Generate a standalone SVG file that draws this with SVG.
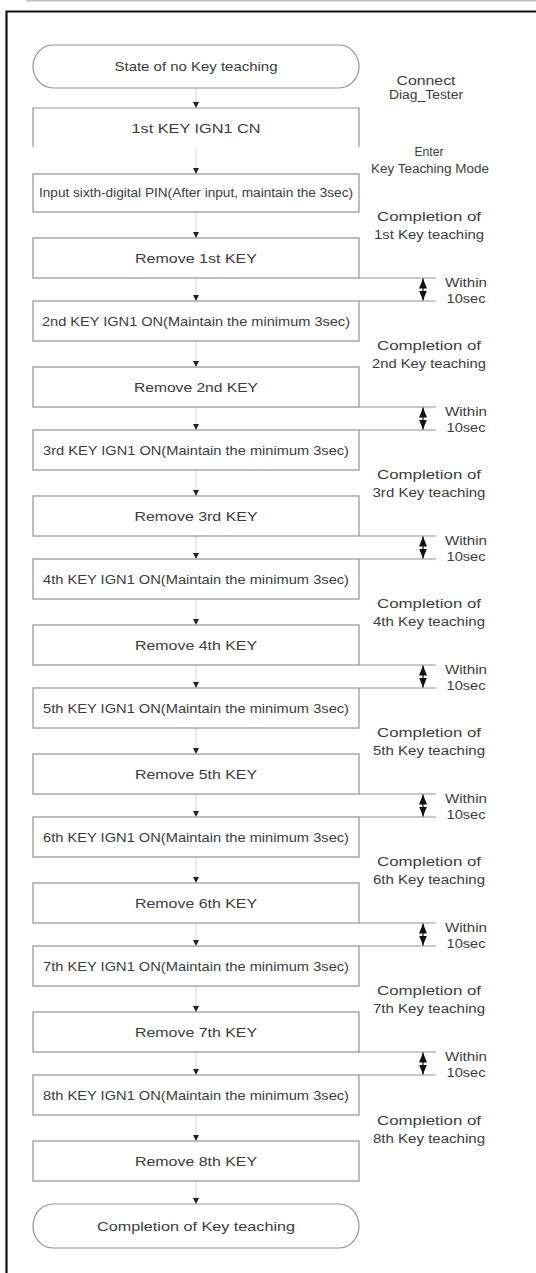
<svg xmlns="http://www.w3.org/2000/svg" width="536" height="1273" viewBox="0 0 536 1273">
<style>
.box{fill:#fff;stroke:#939393;stroke-width:1.2}
.t{font-family:"Liberation Sans",Arial,sans-serif;font-size:13px;fill:#3c3c3c;text-anchor:middle}
.s{font-size:12.5px}
.l{font-family:"Liberation Sans",Arial,sans-serif;font-size:12.5px;fill:#3c3c3c;text-anchor:middle}
.conn{stroke:#d4d4d4;stroke-width:1;fill:none}
.ext{stroke:#939393;stroke-width:1.2;fill:none}
.dbl{stroke:#111;stroke-width:1.2;fill:none}
</style>
<defs>
<marker id="ah" markerUnits="userSpaceOnUse" markerWidth="7" markerHeight="6" refX="6" refY="3" orient="auto"><path d="M0,0 L6,3 L0,6 z" fill="#222"/></marker>
<marker id="dh" markerUnits="userSpaceOnUse" markerWidth="11" markerHeight="8" refX="10" refY="4" orient="auto-start-reverse"><path d="M0,0 L10,4 L0,8 z" fill="#111"/></marker>
</defs>
<rect width="536" height="1273" fill="#fff"/>
<line x1="26" y1="0.7" x2="536" y2="0.7" stroke="#bdbdbd" stroke-width="1.5"/>
<path d="M6.5,1273 V11.5 H536" fill="none" stroke="#111" stroke-width="2.2"/>

<g id="connectors">
<line class="conn" x1="196" y1="88" x2="196" y2="108" marker-end="url(#ah)"/>
<line class="conn" x1="196" y1="147" x2="196" y2="174" marker-end="url(#ah)"/>
<line class="conn" x1="196" y1="212" x2="196" y2="238" marker-end="url(#ah)"/>
<line class="conn" x1="196" y1="278" x2="196" y2="301" marker-end="url(#ah)"/>
<line class="conn" x1="196" y1="341" x2="196" y2="367" marker-end="url(#ah)"/>
<line class="conn" x1="196" y1="407" x2="196" y2="430" marker-end="url(#ah)"/>
<line class="conn" x1="196" y1="470" x2="196" y2="496" marker-end="url(#ah)"/>
<line class="conn" x1="196" y1="536" x2="196" y2="559" marker-end="url(#ah)"/>
<line class="conn" x1="196" y1="599" x2="196" y2="625" marker-end="url(#ah)"/>
<line class="conn" x1="196" y1="665" x2="196" y2="688" marker-end="url(#ah)"/>
<line class="conn" x1="196" y1="728" x2="196" y2="754" marker-end="url(#ah)"/>
<line class="conn" x1="196" y1="794" x2="196" y2="817" marker-end="url(#ah)"/>
<line class="conn" x1="196" y1="857" x2="196" y2="883" marker-end="url(#ah)"/>
<line class="conn" x1="196" y1="923" x2="196" y2="946" marker-end="url(#ah)"/>
<line class="conn" x1="196" y1="986" x2="196" y2="1012" marker-end="url(#ah)"/>
<line class="conn" x1="196" y1="1052" x2="196" y2="1075" marker-end="url(#ah)"/>
<line class="conn" x1="196" y1="1115" x2="196" y2="1141" marker-end="url(#ah)"/>
<line class="conn" x1="196" y1="1181" x2="196" y2="1204" marker-end="url(#ah)"/>
</g>

<g id="timing">
<path class="ext" d="M359,278 H436 M359,301 H436 M359,407 H436 M359,430 H436 M359,536 H436 M359,559 H436 M359,665 H436 M359,688 H436 M359,794 H436 M359,817 H436 M359,923 H436 M359,946 H436 M359,1052 H436 M359,1075 H436"/>
<line class="dbl" x1="423" y1="278.5" x2="423" y2="300.5" marker-start="url(#dh)" marker-end="url(#dh)"/>
<line class="dbl" x1="423" y1="407.5" x2="423" y2="429.5" marker-start="url(#dh)" marker-end="url(#dh)"/>
<line class="dbl" x1="423" y1="536.5" x2="423" y2="558.5" marker-start="url(#dh)" marker-end="url(#dh)"/>
<line class="dbl" x1="423" y1="665.5" x2="423" y2="687.5" marker-start="url(#dh)" marker-end="url(#dh)"/>
<line class="dbl" x1="423" y1="794.5" x2="423" y2="816.5" marker-start="url(#dh)" marker-end="url(#dh)"/>
<line class="dbl" x1="423" y1="923.5" x2="423" y2="945.5" marker-start="url(#dh)" marker-end="url(#dh)"/>
<line class="dbl" x1="423" y1="1052.5" x2="423" y2="1074.5" marker-start="url(#dh)" marker-end="url(#dh)"/>
</g>

<g id="start"><rect class="box" x="33" y="45" width="326" height="43" rx="20" ry="21.5"/><text class="t" x="196" y="71" textLength="163" lengthAdjust="spacingAndGlyphs">State of no Key teaching</text></g>
<g id="key1-on"><path class="box" d="M33,147 V108 H359 V147"/><text class="t" x="196" y="133" textLength="129" lengthAdjust="spacingAndGlyphs">1st KEY IGN1 CN</text></g>
<g id="pin"><rect class="box" x="33" y="174" width="326" height="38"/><text class="t s" x="196" y="197" textLength="314" lengthAdjust="spacingAndGlyphs">Input sixth-digital PIN(After input, maintain the 3sec)</text></g>

<g id="remove1"><rect class="box" x="33" y="238" width="326" height="40"/><text class="t" x="196" y="263" textLength="122" lengthAdjust="spacingAndGlyphs">Remove 1st KEY</text></g>
<g id="key2-on"><rect class="box" x="33" y="301" width="326" height="40"/><text class="t" x="196" y="326" textLength="308" lengthAdjust="spacingAndGlyphs">2nd KEY IGN1 ON(Maintain the minimum 3sec)</text></g>
<g id="remove2"><rect class="box" x="33" y="367" width="326" height="40"/><text class="t" x="196" y="392" textLength="124" lengthAdjust="spacingAndGlyphs">Remove 2nd KEY</text></g>
<g id="key3-on"><rect class="box" x="33" y="430" width="326" height="40"/><text class="t" x="196" y="455" textLength="306" lengthAdjust="spacingAndGlyphs">3rd KEY IGN1 ON(Maintain the minimum 3sec)</text></g>
<g id="remove3"><rect class="box" x="33" y="496" width="326" height="40"/><text class="t" x="196" y="521" textLength="123" lengthAdjust="spacingAndGlyphs">Remove 3rd KEY</text></g>
<g id="key4-on"><rect class="box" x="33" y="559" width="326" height="40"/><text class="t" x="196" y="584" textLength="306" lengthAdjust="spacingAndGlyphs">4th KEY IGN1 ON(Maintain the minimum 3sec)</text></g>
<g id="remove4"><rect class="box" x="33" y="625" width="326" height="40"/><text class="t" x="196" y="650" textLength="122" lengthAdjust="spacingAndGlyphs">Remove 4th KEY</text></g>
<g id="key5-on"><rect class="box" x="33" y="688" width="326" height="40"/><text class="t" x="196" y="713" textLength="306" lengthAdjust="spacingAndGlyphs">5th KEY IGN1 ON(Maintain the minimum 3sec)</text></g>
<g id="remove5"><rect class="box" x="33" y="754" width="326" height="40"/><text class="t" x="196" y="779" textLength="122" lengthAdjust="spacingAndGlyphs">Remove 5th KEY</text></g>
<g id="key6-on"><rect class="box" x="33" y="817" width="326" height="40"/><text class="t" x="196" y="842" textLength="306" lengthAdjust="spacingAndGlyphs">6th KEY IGN1 ON(Maintain the minimum 3sec)</text></g>
<g id="remove6"><rect class="box" x="33" y="883" width="326" height="40"/><text class="t" x="196" y="908" textLength="122" lengthAdjust="spacingAndGlyphs">Remove 6th KEY</text></g>
<g id="key7-on"><rect class="box" x="33" y="946" width="326" height="40"/><text class="t" x="196" y="971" textLength="306" lengthAdjust="spacingAndGlyphs">7th KEY IGN1 ON(Maintain the minimum 3sec)</text></g>
<g id="remove7"><rect class="box" x="33" y="1012" width="326" height="40"/><text class="t" x="196" y="1037" textLength="122" lengthAdjust="spacingAndGlyphs">Remove 7th KEY</text></g>
<g id="key8-on"><rect class="box" x="33" y="1075" width="326" height="40"/><text class="t" x="196" y="1100" textLength="306" lengthAdjust="spacingAndGlyphs">8th KEY IGN1 ON(Maintain the minimum 3sec)</text></g>
<g id="remove8"><rect class="box" x="33" y="1141" width="326" height="40"/><text class="t" x="196" y="1166" textLength="122" lengthAdjust="spacingAndGlyphs">Remove 8th KEY</text></g>
<g id="end"><rect class="box" x="33" y="1204" width="326" height="44" rx="20" ry="22"/><text class="t" x="196" y="1231" textLength="198" lengthAdjust="spacingAndGlyphs">Completion of Key teaching</text></g>

<g id="labels">
<text class="l" x="426" y="85" textLength="59" lengthAdjust="spacingAndGlyphs">Connect</text>
<text class="l" x="426" y="99" textLength="74" lengthAdjust="spacingAndGlyphs">Diag_Tester</text>
<text class="l" x="429" y="156" textLength="29" lengthAdjust="spacingAndGlyphs">Enter</text>
<text class="l" x="430" y="173" textLength="118" lengthAdjust="spacingAndGlyphs">Key Teaching Mode</text>
<text class="l" x="429" y="221" textLength="104" lengthAdjust="spacingAndGlyphs">Completion of</text>
<text class="l" x="429" y="239" textLength="110" lengthAdjust="spacingAndGlyphs">1st Key teaching</text>
<text class="l" x="429" y="350" textLength="104" lengthAdjust="spacingAndGlyphs">Completion of</text>
<text class="l" x="429" y="368" textLength="114" lengthAdjust="spacingAndGlyphs">2nd Key teaching</text>
<text class="l" x="429" y="479" textLength="104" lengthAdjust="spacingAndGlyphs">Completion of</text>
<text class="l" x="429" y="497" textLength="113" lengthAdjust="spacingAndGlyphs">3rd Key teaching</text>
<text class="l" x="429" y="608" textLength="104" lengthAdjust="spacingAndGlyphs">Completion of</text>
<text class="l" x="429" y="626" textLength="112" lengthAdjust="spacingAndGlyphs">4th Key teaching</text>
<text class="l" x="429" y="737" textLength="104" lengthAdjust="spacingAndGlyphs">Completion of</text>
<text class="l" x="429" y="755" textLength="112" lengthAdjust="spacingAndGlyphs">5th Key teaching</text>
<text class="l" x="429" y="866" textLength="104" lengthAdjust="spacingAndGlyphs">Completion of</text>
<text class="l" x="429" y="884" textLength="112" lengthAdjust="spacingAndGlyphs">6th Key teaching</text>
<text class="l" x="429" y="995" textLength="104" lengthAdjust="spacingAndGlyphs">Completion of</text>
<text class="l" x="429" y="1013" textLength="112" lengthAdjust="spacingAndGlyphs">7th Key teaching</text>
<text class="l" x="429" y="1125" textLength="104" lengthAdjust="spacingAndGlyphs">Completion of</text>
<text class="l" x="429" y="1143" textLength="112" lengthAdjust="spacingAndGlyphs">8th Key teaching</text>
<text class="l" x="466" y="287" textLength="42" lengthAdjust="spacingAndGlyphs">Within</text>
<text class="l" x="466" y="303" textLength="39" lengthAdjust="spacingAndGlyphs">10sec</text>
<text class="l" x="466" y="416" textLength="42" lengthAdjust="spacingAndGlyphs">Within</text>
<text class="l" x="466" y="432" textLength="39" lengthAdjust="spacingAndGlyphs">10sec</text>
<text class="l" x="466" y="545" textLength="42" lengthAdjust="spacingAndGlyphs">Within</text>
<text class="l" x="466" y="561" textLength="39" lengthAdjust="spacingAndGlyphs">10sec</text>
<text class="l" x="466" y="674" textLength="42" lengthAdjust="spacingAndGlyphs">Within</text>
<text class="l" x="466" y="690" textLength="39" lengthAdjust="spacingAndGlyphs">10sec</text>
<text class="l" x="466" y="803" textLength="42" lengthAdjust="spacingAndGlyphs">Within</text>
<text class="l" x="466" y="819" textLength="39" lengthAdjust="spacingAndGlyphs">10sec</text>
<text class="l" x="466" y="932" textLength="42" lengthAdjust="spacingAndGlyphs">Within</text>
<text class="l" x="466" y="948" textLength="39" lengthAdjust="spacingAndGlyphs">10sec</text>
<text class="l" x="466" y="1061" textLength="42" lengthAdjust="spacingAndGlyphs">Within</text>
<text class="l" x="466" y="1077" textLength="39" lengthAdjust="spacingAndGlyphs">10sec</text>
</g>
</svg>
